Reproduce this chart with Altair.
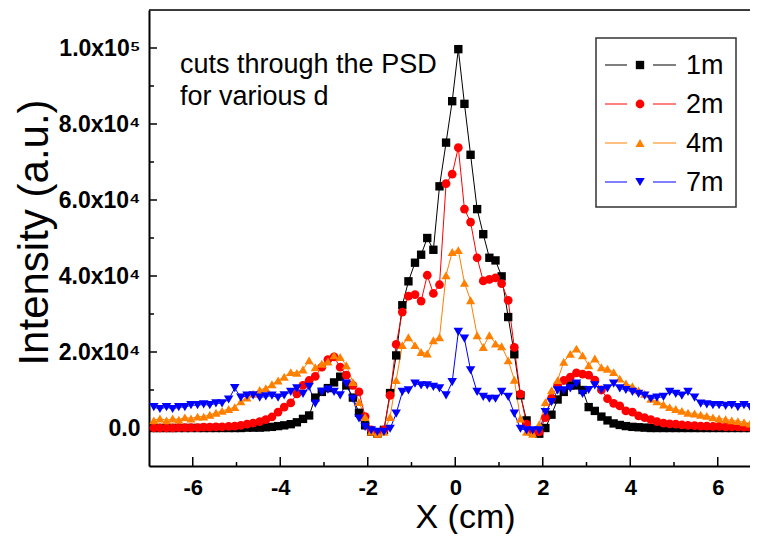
import altair as alt
import pandas as pd

# ---------------- data ----------------
x_cm = [-6.89, -6.75, -6.60, -6.46, -6.32, -6.18, -6.04, -5.89, -5.75, -5.61,
        -5.47, -5.33, -5.18, -5.04, -4.90, -4.76, -4.62, -4.47, -4.33, -4.19,
        -4.05, -3.91, -3.76, -3.62, -3.48, -3.34, -3.20, -3.05, -2.91, -2.77,
        -2.63, -2.49, -2.34, -2.20, -2.06, -1.92, -1.78, -1.63, -1.49, -1.35,
        -1.21, -1.07, -0.92, -0.78, -0.64, -0.50, -0.36, -0.21, -0.07, 0.07,
        0.21, 0.35, 0.50, 0.64, 0.78, 0.92, 1.06, 1.21, 1.35, 1.49,
        1.63, 1.77, 1.92, 2.06, 2.20, 2.34, 2.48, 2.63, 2.77, 2.91,
        3.05, 3.19, 3.34, 3.48, 3.62, 3.76, 3.90, 4.05, 4.19, 4.33,
        4.47, 4.61, 4.76, 4.90, 5.04, 5.18, 5.32, 5.47, 5.61, 5.75,
        5.89, 6.03, 6.18, 6.32, 6.46, 6.60, 6.74, 6.89]

# intensities in units of 1e4
i_1m = [0, 0, 0, 0, 0, 0, 0, 0, 0, 0,
        0, 0, 0, 0, 0, 0.01, 0.01, 0.01, 0.02, 0.03,
        0.05, 0.07, 0.10, 0.15, 0.24, 0.33, 0.80, 0.95, 1.05, 1.20,
        1.35, 1.12, 0.80, 0.40, 0.07, -0.10, -0.15, -0.05, 0.92, 1.91,
        3.23, 3.86, 4.35, 4.56, 5.00, 4.69, 6.36, 7.51, 8.60, 9.97,
        8.53, 7.19, 5.76, 5.10, 4.48, 4.41, 3.99, 2.92, 1.94, 0.86,
        0.20, -0.10, -0.15, 0.00, 0.35, 0.75, 0.95, 1.12, 1.12, 1.00,
        0.55, 0.45, 0.30, 0.20, 0.12, 0.08, 0.05, 0.03, 0.02, 0.01,
        0, 0, 0, 0, 0, 0, 0, 0, 0, 0,
        0, 0, 0, 0, 0, 0, 0, 0]

i_2m = [0.00, 0.00, 0.00, 0.00, 0.01, 0.01, 0.01, 0.01, 0.02, 0.02,
        0.03, 0.03, 0.04, 0.05, 0.07, 0.10, 0.13, 0.17, 0.22, 0.29,
        0.42, 0.55, 0.66, 0.90, 1.12, 1.25, 1.36, 1.60, 1.80, 1.87,
        1.60, 1.39, 1.12, 0.95, 0.30, -0.05, -0.15, -0.05, 0.86, 2.20,
        3.05, 3.47, 3.51, 3.34, 4.02, 3.54, 3.77, 6.43, 6.68, 7.38,
        5.76, 5.42, 4.48, 3.87, 3.91, 3.95, 3.80, 3.36, 2.12, 0.89,
        0.10, -0.10, -0.10, 0.27, 0.78, 1.12, 1.25, 1.34, 1.45, 1.42,
        1.39, 1.26, 1.00, 0.77, 0.65, 0.58, 0.45, 0.42, 0.32, 0.27,
        0.22, 0.17, 0.13, 0.11, 0.10, 0.08, 0.07, 0.06, 0.05, 0.05,
        0.04, 0.04, 0.03, 0.03, 0.03, 0.02, 0.02, 0.02]

i_4m = [0.20, 0.25, 0.20, 0.25, 0.22, 0.28, 0.25, 0.30, 0.30, 0.35,
        0.40, 0.45, 0.50, 0.55, 0.70, 0.80, 0.90, 1.00, 1.05, 1.15,
        1.25, 1.35, 1.47, 1.45, 1.54, 1.78, 1.60, 1.69, 1.75, 1.91,
        1.87, 1.65, 1.21, 0.68, 0.29, -0.10, -0.15, -0.10, 0.29, 1.26,
        2.18, 2.39, 2.18, 2.00, 1.96, 2.31, 2.39, 4.02, 4.63, 4.68,
        3.82, 3.36, 2.44, 2.13, 2.44, 2.22, 2.15, 1.78, 1.27, 0.25,
        -0.10, -0.15, 0.10, 0.68, 0.99, 1.26, 1.74, 1.95, 2.09, 1.91,
        1.65, 1.83, 1.60, 1.56, 1.47, 1.30, 1.17, 1.10, 0.99, 0.90,
        0.77, 0.70, 0.62, 0.55, 0.50, 0.45, 0.40, 0.38, 0.35, 0.32,
        0.28, 0.25, 0.23, 0.20, 0.18, 0.15, 0.12, 0.12]

i_7m = [0.55, 0.50, 0.55, 0.50, 0.55, 0.55, 0.60, 0.60, 0.62, 0.60,
        0.65, 0.65, 0.75, 1.05, 0.80, 0.85, 0.86, 0.80, 0.83, 0.85,
        0.80, 0.86, 0.95, 1.04, 0.90, 1.08, 0.64, 0.95, 1.01, 0.95,
        0.86, 1.17, 0.77, 0.25, 0.03, -0.06, -0.10, -0.10, -0.02, 0.38,
        0.95, 0.99, 1.17, 1.12, 1.12, 1.08, 1.04, 0.86, 1.21, 2.53,
        2.35, 1.52, 0.95, 0.82, 0.77, 0.77, 0.95, 0.82, 0.38, -0.02,
        -0.06, -0.06, -0.06, 0.42, 0.68, 0.99, 0.99, 1.04, 1.17, 0.90,
        1.00, 1.12, 1.00, 1.04, 1.17, 1.04, 1.00, 0.95, 0.90, 0.85,
        0.77, 0.80, 0.82, 0.95, 0.90, 0.85, 0.95, 0.80, 0.64, 0.62,
        0.60, 0.60, 0.58, 0.60, 0.55, 0.60, 0.55, 0.58]

series_names = ["1m", "2m", "4m", "7m"]
series_colors = ["#000000", "#ff0000", "#ff8000", "#0000ff"]
series_shapes = ["square", "circle", "triangle-up", "triangle-down"]
series_sizes = [70, 90, 135, 135]

x_major = [-6, -4, -2, 0, 2, 4, 6]
x_minor = [-5, -3, -1, 1, 3, 5]
y_major = [0, 20000, 40000, 60000, 80000, 100000]
y_minor = [10000, 30000, 50000, 70000, 90000]

note_lines = ["cuts through the PSD", "for various d"]

# ---------------- build tables ----------------
rows = []
for name, vals in zip(series_names, [i_1m, i_2m, i_4m, i_7m]):
    for xv, v in zip(x_cm, vals):
        rows.append({"x": xv, "y": v * 1e4, "series": name})
df = pd.DataFrame(rows)

W, H = 601, 456
FONT = "Liberation Sans"

xs = alt.Scale(domain=[-7, 6.737], nice=False, zero=False)
ys = alt.Scale(domain=[-10000, 110000], nice=False, zero=False)
col = alt.Color("series:N", scale=alt.Scale(domain=series_names, range=series_colors), legend=None)
shp = alt.Shape("series:N", scale=alt.Scale(domain=series_names, range=series_shapes), legend=None)
siz = alt.Size("series:O", scale=alt.Scale(domain=series_names, range=series_sizes), legend=None)

x_axis = alt.Axis(orient="bottom", values=x_major, ticks=False, grid=False, domainColor="black", domainWidth=2,
                  labelFont=FONT, labelFontWeight="bold", labelFontSize=22, labelColor="black",
                  labelPadding=11,
                  labelExpr="datum.value < 0 ? '-' + abs(datum.value) : '' + datum.value",
                  title="X (cm)", titleFont=FONT, titleFontWeight="normal",
                  titleFontSize=34, titleColor="black", titleX=316, titleY=61,
                  titleBaseline="alphabetic")
y_axis = alt.Axis(orient="left", values=y_major, ticks=False, grid=False, domainColor="black", domainWidth=2,
                  labelFont=FONT, labelFontWeight="bold", labelFontSize=23, labelColor="black",
                  labelPadding=9,
                  labelExpr="datum.value == 0 ? '0.0' : (datum.value == 100000 ? '1.0x10\u2075' : format(datum.value/10000, '.1f') + 'x10\u2074')",
                  title="Intensity (a.u.)", titleFont=FONT, titleFontWeight="normal",
                  titleFontSize=42, titleColor="black", titleX=-115, titleY=222,
                  titleAngle=-90, titleBaseline="middle")

def X(field):
    return alt.X(field, scale=xs, axis=x_axis)

def Y(field):
    return alt.Y(field, scale=ys, axis=y_axis)

lines = alt.Chart(df).mark_line(strokeWidth=1, clip=True).encode(
    x=X("x:Q"), y=Y("y:Q"), color=col, detail="series:N")
points = alt.Chart(df).mark_point(filled=True, opacity=1, clip=True).encode(
    x=X("x:Q"), y=Y("y:Q"), color=col, shape=shp, size=siz)

# inward ticks
x_ticks_major = alt.Chart(pd.DataFrame({"x": x_major})).mark_rule(color="black", strokeWidth=1.5).encode(
    x=X("x:Q"), y=alt.value(H), y2=alt.value(H - 9))
x_ticks_minor = alt.Chart(pd.DataFrame({"x": x_minor})).mark_rule(color="black", strokeWidth=1.5).encode(
    x=X("x:Q"), y=alt.value(H), y2=alt.value(H - 4))
y_ticks_major = alt.Chart(pd.DataFrame({"y": y_major[1:]})).mark_rule(color="black", strokeWidth=1.5).encode(
    y=Y("y:Q"), x=alt.value(0), x2=alt.value(8))
y_ticks_minor = alt.Chart(pd.DataFrame({"y": y_minor})).mark_rule(color="black", strokeWidth=1.5).encode(
    y=Y("y:Q"), x=alt.value(0), x2=alt.value(5))
top_line = alt.Chart(pd.DataFrame({"a": [0]})).mark_rule(color="black", strokeWidth=1.5).encode(
    x=alt.value(0), x2=alt.value(W), y=alt.value(0))

# annotation (pixel rows computed from line index)
note_df = pd.DataFrame({"t": note_lines})
note_df["py"] = 55 + 32 * note_df.index
note = alt.Chart(note_df).mark_text(
    align="left", baseline="middle", font=FONT, fontSize=27, color="black").encode(
    x=alt.value(31), y=alt.Y("py:Q", scale=None, axis=None), text="t:N")

# legend (drawn as marks, rows computed from index)
leg_df = pd.DataFrame({"series": series_names})
leg_df["py"] = 55 + 39 * leg_df.index
ly = alt.Y("py:Q", scale=None, axis=None)
leg_box = alt.Chart(pd.DataFrame({"a": [0]})).mark_rect(fill="white", stroke="#333333", strokeWidth=1.5).encode(
    x=alt.value(447), x2=alt.value(587), y=alt.value(28), y2=alt.value(197))
leg_l = alt.Chart(leg_df).mark_rule(strokeWidth=1).encode(x=alt.value(456), x2=alt.value(478), y=ly, color=col)
leg_r = alt.Chart(leg_df).mark_rule(strokeWidth=1).encode(x=alt.value(504), x2=alt.value(527), y=ly, color=col)
leg_p = alt.Chart(leg_df).mark_point(filled=True, opacity=1).encode(x=alt.value(491), y=ly, color=col, shape=shp, size=siz)
leg_t = alt.Chart(leg_df).mark_text(align="left", baseline="middle", font=FONT, fontSize=27, color="black", dy=1).encode(
    x=alt.value(537), y=ly, text="series:N")

chart = alt.layer(
    lines, points, x_ticks_major, x_ticks_minor, y_ticks_major, y_ticks_minor, top_line,
    note, leg_box, leg_l, leg_r, leg_p, leg_t,
).properties(
    width=W, height=H,
    autosize=alt.AutoSizeParams(type="none"),
    padding={"left": 141, "top": 2, "right": 0, "bottom": 68},
).configure_view(strokeWidth=0, stroke="transparent").configure(background="white")

chart.save("out.html", embed_options={"renderer": "svg", "actions": False})
